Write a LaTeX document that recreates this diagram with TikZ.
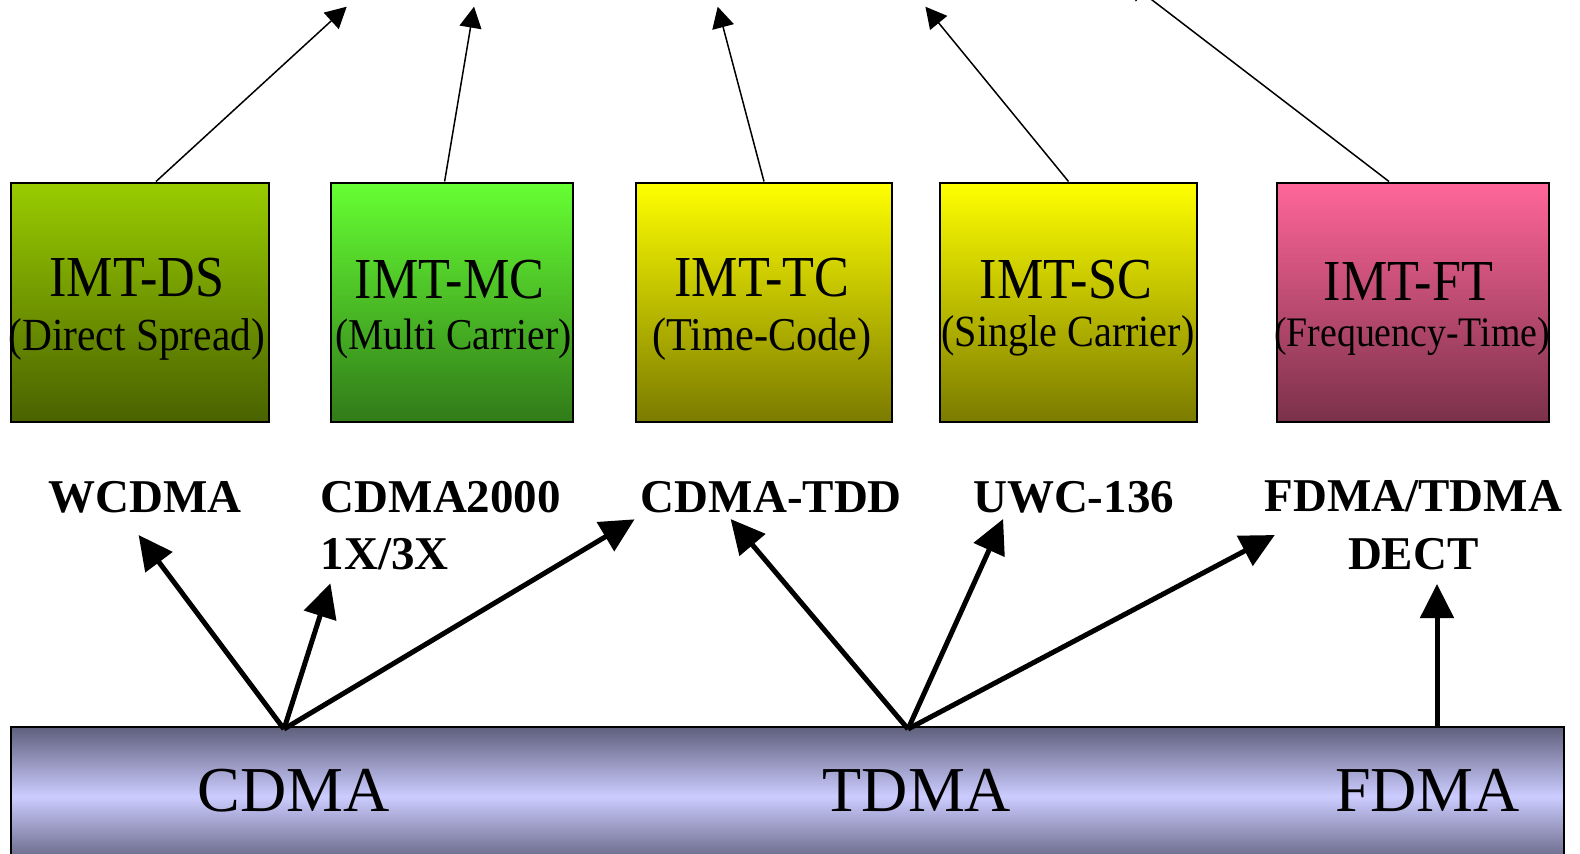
\documentclass[tikz,border=0pt]{standalone}
\usepackage{fontspec}
\setmainfont{Liberation Serif}
\newfontfamily\condserif[FakeStretch=0.9]{Liberation Serif}
\usetikzlibrary{arrows.meta}
\definecolor{dsTop}{HTML}{99CC00}
\definecolor{mcTop}{HTML}{66FF33}
\definecolor{ylTop}{HTML}{FFFF00}
\definecolor{ftTop}{HTML}{FF6699}
\definecolor{barEdge}{RGB}{94,94,124}
\definecolor{barMid}{RGB}{204,204,255}
\begin{document}
\begin{tikzpicture}[x=0.5pt,y=-0.5pt,
  imtbox/.style={draw=black, line width=1pt, minimum height=119.75pt, inner sep=0pt,
    top color=#1, bottom color=#1!48!black},
  headtext/.style={anchor=base, inner sep=0pt, font=\condserif\fontsize{29}{29}\selectfont},
  subtext/.style={anchor=base, inner sep=0pt, font=\condserif\fontsize{#1}{#1}\selectfont},
  bartext/.style={anchor=base, inner sep=0pt, font=\fontsize{32}{32}\selectfont},
  lbl/.style={anchor=base, inner sep=0pt, font=\bfseries\fontsize{23.5}{23.5}\selectfont},
  bigarrow/.style={line width=2.5pt, -{Triangle[length=17pt,width=16.5pt]}},
  thinarrow/.style={line width=0.75pt, -{Triangle[length=10.5pt,width=11pt]}}]
\useasboundingbox (0,0) rectangle (1580,853);

% bottom bar
\node[draw=black, line width=1pt, minimum width=776.5pt, minimum height=69.75pt, inner sep=0pt,
  top color=barEdge, bottom color=barEdge, middle color=barMid] (bar) at (787.5,796.25) {};
\node[bartext] (cdma) at (294,811.7) {CDMA};
\node[bartext] (tdma) at (917,811.7) {TDMA};
\node[bartext] (fdma) at (1427.6,811.7) {FDMA};

% IMT boxes
\node[imtbox=dsTop, minimum width=129pt] (ds) at (140,302.25) {};
\node[imtbox=mcTop, minimum width=120.75pt] (mc) at (452,302.25) {};
\node[imtbox=ylTop, minimum width=128.25pt] (tc) at (764,302.25) {};
\node[imtbox=ylTop, minimum width=128.5pt] (sc) at (1068.5,302.25) {};
\node[imtbox=ftTop, minimum width=136.25pt] (ft) at (1413,302.25) {};

\node[headtext] (dsA) at (137,296.7) {IMT-DS};
\node[subtext=23] (dsB) at (136.7,350) {(Direct Spread)};
\node[headtext] (mcA) at (449.6,298) {IMT-MC};
\node[subtext=22] (mcB) at (453.6,349) {(Multi Carrier)};
\node[headtext] (tcA) at (761.8,296.7) {IMT-TC};
\node[subtext=23.5] (tcB) at (762,350) {(Time-Code)};
\node[headtext] (scA) at (1065.8,298.3) {IMT-SC};
\node[subtext=22.3] (scB) at (1068,346.7) {(Single Carrier)};
\node[headtext] (ftA) at (1408.3,300) {IMT-FT};
\node[subtext=21] (ftB) at (1412,346.7) {(Frequency-Time)};

% technology labels
\node[lbl] (wcdma) at (145,512) {WCDMA};
\node[lbl, anchor=base west] (cdma2000) at (320.4,512) {CDMA2000};
\node[lbl, anchor=base west] (onex) at (320.4,569) {1X/3X};
\node[lbl] (cdmatdd) at (771.4,512) {CDMA-TDD};
\node[lbl] (uwc) at (1073.6,512) {UWC-136};
\node[lbl] (fdmatdma) at (1413.3,511) {FDMA/TDMA};
\node[lbl] (dect) at (1413.3,569) {DECT};

% arrow origins and tips
\coordinate (cdmaP) at (284,729);
\coordinate (tdmaP) at (908,729);
\coordinate (fdmaP) at (1437,727);
\coordinate (tWcdma) at (138.6,535);
\coordinate (tOnex) at (330.4,583.3);
\coordinate (tCdmaTdd) at (634.6,519.3);
\coordinate (tTdd) at (730.6,519);
\coordinate (tUwc) at (1003.1,519);
\coordinate (tFdTd) at (1274.8,535);
\coordinate (tDect) at (1437,584);

\draw[bigarrow] (cdmaP) -- (tWcdma);
\draw[bigarrow] (cdmaP) -- (tOnex);
\draw[bigarrow] (cdmaP) -- (tCdmaTdd);
\draw[bigarrow] (tdmaP) -- (tTdd);
\draw[bigarrow] (tdmaP) -- (tUwc);
\draw[bigarrow] (tdmaP) -- (tFdTd);
\draw[bigarrow] (fdmaP) -- (tDect);

% top arrows
\coordinate (uDs) at (346.7,6.7);
\coordinate (uMc) at (474,6.7);
\coordinate (uTc) at (717.7,6.7);
\coordinate (uSc) at (925.4,6.7);
\coordinate (uFt) at (1126,-20);
\draw[thinarrow] ([xshift=8pt]ds.north) -- (uDs);
\draw[thinarrow] ([xshift=-3.7pt]mc.north) -- (uMc);
\draw[thinarrow] (tc.north) -- (uTc);
\draw[thinarrow] (sc.north) -- (uSc);
\draw[thinarrow] ([xshift=-12pt]ft.north) -- (uFt);
\end{tikzpicture}
\end{document}
